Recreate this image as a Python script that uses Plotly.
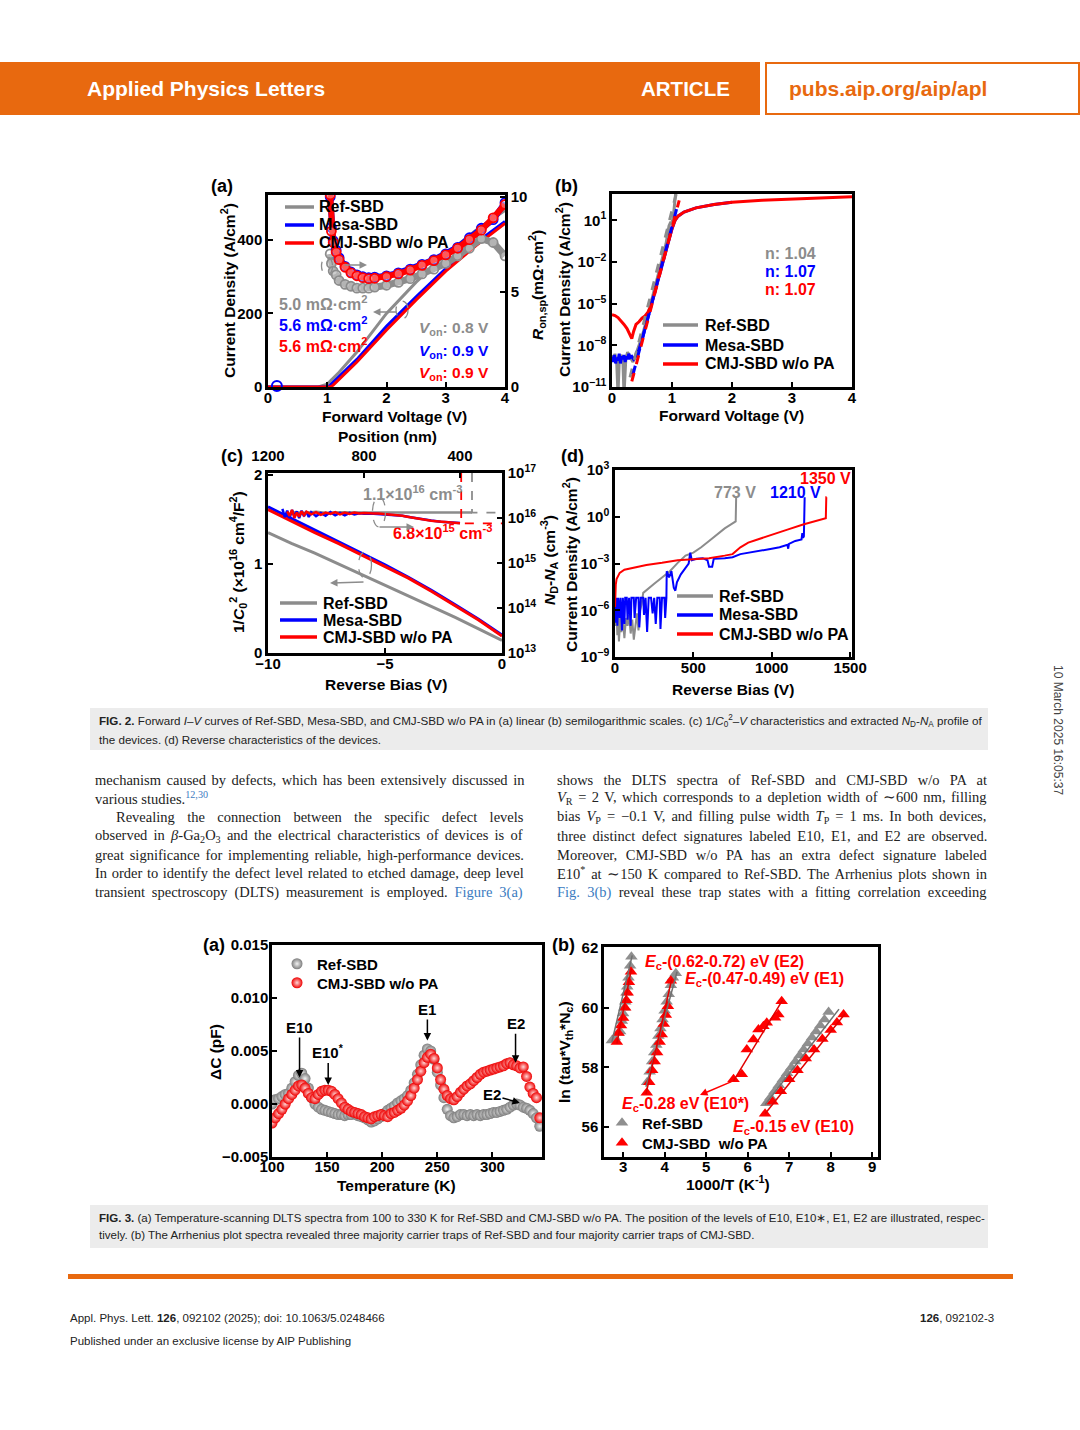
import plotly.graph_objects as go

W, H = 1080, 1430
SANS = "Arial, Liberation Sans, Helvetica, sans-serif"
SERIF = "Times New Roman, Liberation Serif, serif"
GREY = '#8c8c8c'
BLUE = '#0000ff'
RED = '#ff0000'
ORANGE = '#e8690f'
LINK = '#3b7bbf'

# ---------------- Fig. 2(a): linear J-V (A/cm2) and Ron,sp (mOhm cm2) ----------------
a_v_ref = [0, 0.85, 1.0, 1.2, 1.5, 2.0, 2.5, 3.0, 3.5, 4.0]
a_j_ref = [0, 0, 8, 40, 95, 200, 285, 360, 425, 480]
a_v_mesa = [0, 1.0, 1.05, 1.5, 2.0, 2.5, 3.0, 3.5, 4.0]
a_j_mesa = [0, 0, 5, 75, 165, 245, 322, 390, 450]
a_v_cmj = [0, 1.05, 1.1, 1.5, 2.0, 2.5, 3.0, 3.5, 4.0]
a_j_cmj = [0, 0, 5, 68, 155, 237, 315, 383, 445]
a_v_ron = [1.05, 1.07, 1.1, 1.15, 1.2, 1.3, 1.4, 1.5, 1.6, 1.7, 1.8, 2.0, 2.2, 2.4, 2.6, 2.8, 3.0, 3.2, 3.4, 3.6, 3.8, 4.0]
a_ron_ref = [7.0, 6.5, 6.1, 5.9, 5.6, 5.4, 5.3, 5.2, 5.2, 5.2, 5.25, 5.35, 5.5, 5.7, 5.95, 6.2, 6.5, 6.9, 7.3, 7.8, 7.6, 6.9]
a_ron_mesa = [10.0, 8.4, 7.7, 7.2, 6.8, 6.35, 6.05, 5.9, 5.8, 5.75, 5.78, 5.85, 6.0, 6.2, 6.45, 6.7, 7.0, 7.35, 7.85, 8.35, 8.8, 9.7]
a_ron_cmj = [10.1, 8.2, 7.6, 7.1, 6.7, 6.3, 6.0, 5.85, 5.75, 5.7, 5.72, 5.8, 5.95, 6.15, 6.4, 6.65, 6.95, 7.3, 7.75, 8.25, 8.9, 9.6]
a_out_v = [0.15]
a_out_r = [0.05]

# ---------------- Fig. 2(b): semilog forward J-V ----------------
b_v_ref = [0, 0.03, 0.05, 0.08, 0.1, 0.12, 0.15, 0.18, 0.2, 0.23, 0.26, 0.3, 0.35, 0.4, 0.5, 0.6, 0.7, 0.8, 0.9, 0.95, 0.98, 1.0, 1.03, 1.06]
b_j_ref = [2e-9, 1e-9, 2.5e-9, 4e-10, 3e-12, 6.3e-10, 2e-9, 1.3e-9, 3e-12, 1e-9, 3.2e-9, 1.6e-9, 6.3e-10, 2.5e-9, 4e-8, 1.6e-6, 8e-5, 4e-3, 0.2, 4, 8, 5, 40, 800]
b_v_mesa = [0, 0.02, 0.04, 0.06, 0.08, 0.1, 0.12, 0.14, 0.16, 0.18, 0.2, 0.22, 0.24, 0.26, 0.28, 0.3, 0.33, 0.36, 0.4, 0.45, 0.5, 0.6, 0.7, 0.8, 0.9, 1.0, 1.05, 1.1, 1.2, 1.4, 1.7, 2.0]
b_j_mesa = [1.6e-9, 6.3e-10, 2e-9, 5e-10, 1.3e-9, 8e-10, 2.5e-9, 5e-10, 1.6e-9, 1e-9, 2e-9, 6.3e-10, 1.6e-9, 1e-9, 2.5e-9, 1.3e-9, 1.6e-9, 1e-9, 1.6e-9, 5e-9, 2.5e-8, 1e-6, 4e-5, 2e-3, 8e-2, 2.5, 10, 20, 40, 80, 140, 200]
b_v_cmj = [0, 0.05, 0.1, 0.15, 0.2, 0.25, 0.3, 0.33, 0.36, 0.4, 0.45, 0.5, 0.55, 0.6, 0.65, 0.7, 0.8, 0.9, 1.0, 1.05, 1.1, 1.2, 1.4, 1.7, 2.0, 2.5, 3.0, 3.5, 4.0]
b_j_cmj = [1.6e-6, 1.4e-6, 1.0e-6, 6e-7, 3.2e-7, 1.6e-7, 6e-8, 3e-8, 1e-7, 3.2e-7, 5e-7, 9e-7, 1.3e-6, 2.5e-6, 8e-6, 4e-5, 2e-3, 8e-2, 2.5, 10, 20, 40, 80, 140, 200, 280, 350, 420, 500]
b_fit_ref_v = [0.3, 1.07]
b_fit_ref_j = [5e-11, 800]
b_fit_mesa_v = [0.35, 1.1]
b_fit_mesa_j = [8e-11, 160]
b_fit_cmj_v = [0.33, 1.12]
b_fit_cmj_j = [2.5e-11, 280]

# ---------------- Fig. 2(c): 1/C^2-V and ND-NA profile ----------------
c_bias = [-10, -9, -8, -7, -6, -5, -4, -3, -2, -1, 0]
c_invc2_ref = [1.35, 1.23, 1.12, 1.00, 0.88, 0.76, 0.64, 0.52, 0.40, 0.27, 0.14]
c_invc2_mesa = [1.64, 1.51, 1.38, 1.25, 1.12, 0.99, 0.85, 0.70, 0.54, 0.38, 0.20]
c_invc2_cmj = [1.61, 1.48, 1.35, 1.23, 1.10, 0.97, 0.84, 0.69, 0.53, 0.37, 0.19]
c_pos_ref = [1100, 1050, 1000, 950, 900, 850, 800, 750, 700, 650, 600, 550, 500, 450, 400, 350]
c_nd_ref = [1.35e16, 1.3e16, 1.38e16, 1.3e16, 1.35e16, 1.32e16, 1.33e16, 1.32e16, 1.32e16, 1.32e16, 1.31e16, 1.32e16, 1.32e16, 1.31e16, 1.32e16, 1.32e16]
c_pos_mesa = [1140, 1130, 1120, 1110, 1100, 1090, 1080, 1070, 1060, 1050, 1040, 1030, 1020,
              1000, 980, 960, 940, 920, 900, 880, 860, 840, 820, 800,
              760, 720, 680, 640, 600, 560, 520, 480, 440, 400]
c_nd_mesa = [1.6e16, 1.05e16, 1.45e16, 1.0e16, 1.5e16, 1.1e16, 1.4e16, 1.0e16, 1.45e16, 1.1e16, 1.4e16, 1.05e16, 1.35e16,
             1.1e16, 1.3e16, 1.12e16, 1.35e16, 1.15e16, 1.3e16, 1.15e16, 1.3e16, 1.2e16, 1.28e16, 1.25e16,
             1.25e16, 1.22e16, 1.18e16, 1.12e16, 1.03e16, 9.4e15, 8.8e15, 8.3e15, 8.0e15, 7.7e15]
c_pos_cmj = [1120, 1110, 1100, 1090, 1080, 1070, 1060, 1050, 1040, 1020, 1000, 980, 960, 940, 920, 900,
             880, 860, 840, 820, 800, 780, 760, 740, 720, 700, 680, 660, 640, 620, 600, 580, 560, 540,
             520, 500, 480, 460, 440, 420, 400]
c_nd_cmj = [1.41e16, 1.12e16, 1.51e16, 1.0e16, 1.32e16, 1.07e16, 1.41e16, 1.15e16, 1.38e16, 1.2e16, 1.35e16,
            1.17e16, 1.32e16, 1.23e16, 1.35e16, 1.2e16, 1.32e16, 1.23e16, 1.32e16, 1.26e16, 1.29e16, 1.26e16,
            1.26e16, 1.26e16, 1.23e16, 1.2e16, 1.2e16, 1.17e16, 1.12e16, 1.07e16, 1.02e16, 9.8e15, 9.3e15,
            9.1e15, 8.7e15, 8.5e15, 8.3e15, 8.1e15, 7.9e15, 7.8e15, 7.6e15]
c_guide_ref_pos = [350, 350, 225]
c_guide_ref_nd = [1e17, 1.32e16, 1.32e16]
c_guide_cmj_pos = [395, 395, 225]
c_guide_cmj_nd = [1e17, 7.6e15, 7.6e15]

# ---------------- Fig. 2(d): reverse characteristics ----------------
d_v_ref = [0, 5, 10, 15, 20, 25, 30, 35, 40, 50, 60, 70, 80, 90, 100, 110, 120, 130, 140, 150, 160, 170, 180,
           250, 300, 350, 400, 450, 500, 550, 600, 650, 700, 740, 770, 773, 775]
d_j_ref = [1e-6, 1e-7, 6.3e-7, 2.5e-8, 4e-7, 1e-8, 6.3e-8, 5e-7, 4e-8, 2.5e-7, 1.6e-8, 3.2e-7, 1e-7, 5e-7, 3.2e-8,
           2.5e-7, 1.3e-8, 1.6e-7, 6.3e-7, 5e-8, 1e-6, 2.5e-6, 1.3e-5, 5e-5, 1.3e-4, 3.2e-4, 1.1e-3, 3.2e-3, 5e-3,
           1.1e-2, 2.8e-2, 7e-2, 0.18, 0.32, 0.5, 18, 18]
d_v_mesa = [0, 5, 10, 15, 20, 30, 35, 45, 50, 60, 65, 75, 80, 90, 100, 105, 120, 125, 135, 150, 155, 165, 180,
            185, 195, 205, 215, 230, 240, 250, 260, 270, 285, 290, 300, 315, 320, 328, 330, 345, 360, 375, 385,
            395, 420, 450, 470, 480, 490, 520, 560, 590, 600, 620, 630, 700, 750, 800, 900, 1000, 1050, 1100,
            1105, 1110, 1150, 1190, 1195, 1200, 1205, 1208, 1210]
d_j_mesa = [6.3e-6, 1.6e-7, 6.3e-6, 1e-7, 6.3e-6, 3.2e-7, 6.3e-6, 5e-8, 6.3e-6, 1.3e-7, 6.3e-6, 6.3e-6, 2.5e-7,
            6.3e-6, 1e-7, 6.3e-6, 6.3e-6, 3.2e-7, 6.3e-6, 6.3e-6, 8e-8, 6.3e-6, 6.3e-6, 5e-7, 6.3e-6, 4e-8,
            6.3e-6, 6.3e-6, 6.3e-7, 6.3e-6, 1.3e-7, 6.3e-6, 6.3e-6, 6.3e-8, 6.3e-6, 6.3e-6, 3.2e-7, 6.3e-6,
            3.2e-4, 1.3e-4, 3.2e-4, 2.8e-5, 1.8e-5, 6.3e-5, 2e-4, 5e-4, 1e-3, 5e-3, 1.6e-3, 2e-3, 2.2e-3,
            1.6e-3, 6.3e-4, 6.3e-4, 2e-3, 2.2e-3, 2.5e-3, 4e-3, 6.3e-3, 8.9e-3, 1.1e-2, 1.6e-2, 8.9e-3, 1.8e-2,
            2.8e-2, 3.5e-2, 8.9e-2, 4.5e-2, 5.6e-2, 18, 18]
d_v_cmj = [0, 2, 5, 10, 30, 60, 100, 200, 300, 400, 500, 600, 700, 750, 800, 850, 900, 1000, 1100, 1200, 1300, 1345, 1348, 1350]
d_j_cmj = [1.6e-6, 1e-5, 4.5e-5, 1e-4, 2.5e-4, 4e-4, 5e-4, 8e-4, 1.1e-3, 1.6e-3, 1.9e-3, 2.2e-3, 3.2e-3, 4e-3,
           1.1e-2, 2.2e-2, 3.2e-2, 7.2e-2, 0.15, 0.32, 0.56, 0.8, 18, 18]

# ---------------- Fig. 3(a): DLTS spectra (pF) ----------------
t_temp = [100, 103, 106, 109, 112, 115, 118, 121, 124, 127, 130, 133, 136, 139, 142, 145, 148, 151, 154, 157,
          160, 163, 166, 169, 172, 175, 178, 181, 184, 187, 190, 193, 196, 199, 202, 205, 208, 211, 214, 217,
          220, 223, 226, 229, 232, 235, 238, 241, 244, 247, 250, 253, 256, 259, 262, 265, 268, 271, 274, 277,
          280, 283, 286, 289, 292, 295, 298, 301, 304, 307, 310, 313, 316, 319, 322, 325, 328, 331, 334, 337,
          340, 343]
t_dc_ref = [0.0, 0.0004, 0.0005, 0.0007, 0.0009, 0.0010, 0.0015, 0.0021, 0.0027, 0.0029, 0.0024, 0.0015, 0.0006,
            0.0, -0.0003, -0.0005, -0.0006, -0.0007, -0.0008, -0.0009, -0.0010, -0.0010, -0.0011, -0.0010,
            -0.0010, -0.0009, -0.0011, -0.0012, -0.0013, -0.0015, -0.0017, -0.0016, -0.0014, -0.0012, -0.0009,
            -0.0006, -0.0004, -0.0002, 0.0001, 0.0003, 0.0005, 0.0008, 0.0013, 0.0020, 0.0028, 0.0037, 0.0046,
            0.0052, 0.0050, 0.0042, 0.0030, 0.0018, 0.0006, -0.0005, -0.0011, -0.0013, -0.0012, -0.0010,
            -0.0010, -0.0011, -0.0010, -0.0011, -0.0010, -0.0011, -0.0010, -0.0010, -0.0009, -0.0008, -0.0008,
            -0.0007, -0.0006, -0.0005, -0.0003, -0.0001, 0.0, -0.0001, -0.0003, -0.0004, -0.0006, -0.0009,
            -0.0013, -0.0021]
t_dc_cmj = [-0.0018, -0.0013, -0.0009, -0.0005, 0.0, 0.0005, 0.0009, 0.0013, 0.0017, 0.0018, 0.0015, 0.0010,
            0.0006, 0.0005, 0.0009, 0.0012, 0.0013, 0.0013, 0.0012, 0.0009, 0.0005, 0.0001, -0.0003, -0.0005,
            -0.0007, -0.0008, -0.0009, -0.0010, -0.0012, -0.0013, -0.0014, -0.0012, -0.0011, -0.0010, -0.0011,
            -0.0012, -0.0009, -0.0008, -0.0006, -0.0004, -0.0001, 0.0003, 0.0008, 0.0015, 0.0023, 0.0031,
            0.0039, 0.0044, 0.0047, 0.0043, 0.0034, 0.0023, 0.0014, 0.0008, 0.0005, 0.0004, 0.0007, 0.0011,
            0.0014, 0.0017, 0.0019, 0.0022, 0.0025, 0.0028, 0.0030, 0.0031, 0.0032, 0.0033, 0.0034, 0.0035,
            0.0036, 0.0038, 0.0039, 0.0037, 0.0036, 0.0034, 0.0035, 0.0026, 0.0016, 0.0010, 0.0006, -0.0013]

# ---------------- Fig. 3(b): Arrhenius plots ----------------
r_x_ref = [2.73, 2.8, 2.88, 2.93, 2.97, 3.0, 3.03, 3.05, 3.08, 3.1, 3.13, 3.17, 3.2,
           3.58, 3.64, 3.7, 3.75, 3.8, 3.85, 3.9, 3.95, 4.0, 4.05, 4.1, 4.15, 4.2, 4.27,
           6.45, 6.55, 6.65, 6.75, 6.85, 6.95, 7.05, 7.15, 7.25, 7.35, 7.45, 7.55, 7.65, 7.75, 7.85, 7.95]
r_y_ref = [58.9, 59.0, 59.15, 59.2, 59.55, 59.8, 60.0, 60.2, 60.5, 60.7, 61.0, 61.4, 61.7,
           57.5, 57.85, 58.2, 58.5, 58.75, 59.05, 59.3, 59.6, 59.9, 60.2, 60.45, 60.75, 61.0, 61.15,
           56.8, 57.0, 57.2, 57.4, 57.6, 57.8, 58.0, 58.2, 58.4, 58.6, 58.8, 59.0, 59.2, 59.4, 59.6, 59.85]
r_x_cmj = [2.85, 2.89, 2.95, 3.0, 3.05, 3.08, 3.11, 3.14, 3.19,
           3.57, 3.63, 3.7, 3.76, 3.82, 3.88, 3.93, 3.98, 4.03, 4.08, 4.15,
           5.66, 5.86, 5.98, 6.14, 6.26, 6.38, 6.46, 6.66, 6.74, 6.82,
           6.42, 6.6, 6.8, 7.0, 7.2, 7.4, 7.6, 7.8, 8.0, 8.15, 8.31]
r_y_cmj = [58.85, 59.15, 59.4, 59.65, 60.0, 60.25, 60.5, 60.85, 61.2,
           57.15, 57.5, 57.9, 58.2, 58.5, 58.85, 59.1, 59.45, 59.75, 60.05, 60.9,
           57.6, 57.77, 58.6, 58.93, 59.27, 59.38, 59.49, 59.66, 59.77, 60.21,
           56.45, 56.85, 57.2, 57.6, 57.9, 58.3, 58.6, 58.95, 59.25, 59.5, 59.77]
r_fit_x_ref = [2.73, 3.22, None, 3.55, 4.3, None, 6.42, 8.2]
r_fit_y_ref = [58.85, 61.75, None, 57.35, 61.2, None, 56.75, 59.95]
r_fit_x_cmj = [2.85, 3.2, None, 3.55, 4.17, None, 5.66, 6.84, None, 6.42, 8.35]
r_fit_y_cmj = [58.8, 61.3, None, 57.1, 60.95, None, 57.55, 60.25, None, 56.45, 59.8]


def xd(l, r):
    return [l / W, r / W]


def yd(t, b):
    return [1 - b / H, 1 - t / H]


TF = dict(family=SANS, size=15, color='black', weight='bold')
TF3 = dict(family=SANS, size=15, color='black', weight='bold')


def axis(dom=None, rng=None, anchor=None, **kw):
    d = dict(range=rng, anchor=anchor, showline=True, linecolor='black', linewidth=2.5,
             mirror=True, ticks='inside', ticklen=5, tickwidth=2, tickcolor='black',
             showgrid=False, zeroline=False, tickfont=TF, fixedrange=True, automargin=False)
    if dom is not None:
        d['domain'] = dom
    d.update(kw)
    return d


traces = []
# --- 2(a)
for v, j, c in [(a_v_ref, a_j_ref, GREY), (a_v_mesa, a_j_mesa, BLUE), (a_v_cmj, a_j_cmj, RED)]:
    traces.append(go.Scatter(x=v, y=j, mode='lines', line=dict(color=c, width=3),
                             xaxis='x', yaxis='y', showlegend=False, hoverinfo='skip'))
for r, c, w in [(a_ron_ref, GREY, 7), (a_ron_mesa, BLUE, 6), (a_ron_cmj, RED, 6)]:
    traces.append(go.Scatter(x=a_v_ron, y=r, mode='lines+markers', line=dict(color=c, width=w),
                             marker=dict(symbol='circle', size=9, color='rgba(255,255,255,0.35)',
                                         line=dict(color=c, width=1.8)),
                             xaxis='x', yaxis='y2', showlegend=False, hoverinfo='skip'))
traces.append(go.Scatter(x=a_out_v, y=a_out_r, mode='markers',
                         marker=dict(symbol='circle-open', size=10, color=BLUE, line=dict(width=2)),
                         xaxis='x', yaxis='y2', showlegend=False, cliponaxis=False))
# --- 2(b)
for v, j, c in [(b_v_ref, b_j_ref, GREY), (b_v_mesa, b_j_mesa, BLUE), (b_v_cmj, b_j_cmj, RED)]:
    traces.append(go.Scatter(x=v, y=j, mode='lines', line=dict(color=c, width=3),
                             xaxis='x2', yaxis='y3', showlegend=False, hoverinfo='skip'))
for v, j, c in [(b_fit_ref_v, b_fit_ref_j, GREY), (b_fit_mesa_v, b_fit_mesa_j, BLUE), (b_fit_cmj_v, b_fit_cmj_j, RED)]:
    traces.append(go.Scatter(x=v, y=j, mode='lines', line=dict(color=c, width=3, dash='dash'),
                             xaxis='x2', yaxis='y3', showlegend=False, hoverinfo='skip'))
# --- 2(c)
for y, c in [(c_invc2_ref, GREY), (c_invc2_mesa, BLUE), (c_invc2_cmj, RED)]:
    traces.append(go.Scatter(x=c_bias, y=y, mode='lines', line=dict(color=c, width=3),
                             xaxis='x3', yaxis='y4', showlegend=False, hoverinfo='skip'))
for p, n, c in [(c_pos_ref, c_nd_ref, GREY), (c_pos_mesa, c_nd_mesa, BLUE), (c_pos_cmj, c_nd_cmj, RED)]:
    traces.append(go.Scatter(x=p, y=n, mode='lines', line=dict(color=c, width=2.5),
                             xaxis='x4', yaxis='y5', showlegend=False, hoverinfo='skip'))
for p, n, c in [(c_guide_ref_pos, c_guide_ref_nd, GREY), (c_guide_cmj_pos, c_guide_cmj_nd, RED)]:
    traces.append(go.Scatter(x=p, y=n, mode='lines', line=dict(color=c, width=1.8, dash='dash'),
                             xaxis='x4', yaxis='y5', showlegend=False, hoverinfo='skip'))
# --- 2(d)
for v, j, c in [(d_v_ref, d_j_ref, GREY), (d_v_mesa, d_j_mesa, BLUE), (d_v_cmj, d_j_cmj, RED)]:
    traces.append(go.Scatter(x=v, y=j, mode='lines', line=dict(color=c, width=2),
                             xaxis='x5', yaxis='y6', showlegend=False, hoverinfo='skip'))
# --- 3(a)
traces.append(go.Scatter(x=t_temp, y=t_dc_ref, mode='markers', name='Ref-SBD', legend='legend',
                         marker=dict(size=11, color='#7d7d7d', gradient=dict(type='radial', color='#f2f2f2'),
                                     line=dict(width=0)),
                         xaxis='x6', yaxis='y7', hoverinfo='skip'))
traces.append(go.Scatter(x=t_temp, y=t_dc_cmj, mode='markers', name='CMJ-SBD w/o PA', legend='legend3',
                         marker=dict(size=11, color='#ee0000', gradient=dict(type='radial', color='#ffd6d6'),
                                     line=dict(width=0)),
                         xaxis='x6', yaxis='y7', hoverinfo='skip'))
# --- 3(b)
traces.append(go.Scatter(x=r_x_ref, y=r_y_ref, mode='markers', name='Ref-SBD', legend='legend2',
                         marker=dict(symbol='triangle-up', size=11, color='#8f8f8f'),
                         xaxis='x7', yaxis='y8', hoverinfo='skip'))
traces.append(go.Scatter(x=r_x_cmj, y=r_y_cmj, mode='markers', name='CMJ-SBD  w/o PA', legend='legend4',
                         marker=dict(symbol='triangle-up', size=11, color=RED),
                         xaxis='x7', yaxis='y8', hoverinfo='skip'))
traces.append(go.Scatter(x=r_fit_x_ref, y=r_fit_y_ref, mode='lines', line=dict(color='#707070', width=1.5),
                         xaxis='x7', yaxis='y8', showlegend=False, hoverinfo='skip'))
traces.append(go.Scatter(x=r_fit_x_cmj, y=r_fit_y_cmj, mode='lines', line=dict(color='#e00000', width=1.5),
                         xaxis='x7', yaxis='y8', showlegend=False, hoverinfo='skip'))

fig = go.Figure(traces)

ann = []
shapes = []


def T(text, x, y, size=14, color='black', xa='center', ya='middle', angle=0, family=SANS, bold=True):
    if bold:
        text = '<b>' + text + '</b>'
    ann.append(dict(text=text, x=x / W, y=1 - y / H, xref='paper', yref='paper', xanchor=xa, yanchor=ya,
                    showarrow=False, textangle=angle, font=dict(family=family, size=size, color=color)))


def ARW(x0, y0, x1, y1, color, width=1.5):
    ann.append(dict(text='', x=x1 / W, y=1 - y1 / H, xref='paper', yref='paper', ax=x0 - x1, ay=y0 - y1,
                    showarrow=True, arrowhead=2, arrowsize=1, arrowwidth=width, arrowcolor=color))


def ELL(cx, cy, w, h, color=GREY):
    shapes.append(dict(type='circle', xref='paper', yref='paper', x0=(cx - w / 2) / W, x1=(cx + w / 2) / W,
                       y0=1 - (cy + h / 2) / H, y1=1 - (cy - h / 2) / H,
                       line=dict(color=color, width=1.3, dash='dash')))


def RECT(x0, y0, x1, y1, fill, line_color=None, lw=0):
    shapes.append(dict(type='rect', xref='paper', yref='paper', x0=x0 / W, x1=x1 / W, y0=1 - y1 / H,
                       y1=1 - y0 / H, fillcolor=fill, line=dict(color=line_color or fill, width=lw),
                       layer='below'))


def LEGLINE(x0, x1, y, color, text, tx, size=16, lw=3.5):
    shapes.append(dict(type='line', xref='paper', yref='paper', x0=x0 / W, x1=x1 / W, y0=1 - y / H,
                       y1=1 - y / H, line=dict(color=color, width=lw)))
    T(text, tx, y, size=size, xa='left')


# ---------- header ----------
RECT(0, 62, 760, 115, ORANGE)
RECT(766, 63, 1079, 114, 'white', ORANGE, 2)
T('Applied Physics Letters', 85, 88, size=21, color='white', xa='left')
T('ARTICLE', 732, 88, size=20.5, color='white', xa='right')
T('pubs.aip.org/aip/apl', 787, 89, size=21, color=ORANGE, xa='left')

# ---------- Fig 2 panel labels ----------
T('(a)', 222, 186, size=18)
T('(b)', 566, 186, size=18)
T('(c)', 232, 456, size=18)
T('(d)', 572, 456, size=18)

# 2(a)
T('Current Density (A/cm<sup>2</sup>)', 228, 291, size=15.5, angle=-90)
T('<i>R</i><sub>on,sp</sub>(mΩ·cm<sup>2</sup>)', 537, 285, size=15.5, angle=-90)
T('Forward Voltage (V)', 394, 416, size=15.5)
LEGLINE(285, 314, 207, GREY, 'Ref-SBD', 317)
LEGLINE(285, 314, 225, BLUE, 'Mesa-SBD', 317)
LEGLINE(285, 314, 243, RED, 'CMJ-SBD w/o PA', 317)
T('5.0 mΩ·cm<sup>2</sup>', 277, 303, size=16, color=GREY, xa='left')
T('5.6 mΩ·cm<sup>2</sup>', 277, 324, size=16, color=BLUE, xa='left')
T('5.6 mΩ·cm<sup>2</sup>', 277, 345, size=16, color=RED, xa='left')
T('<i>V</i><sub>on</sub>: 0.8 V', 491, 328, size=15.5, color=GREY, xa='right')
T('<i>V</i><sub>on</sub>: 0.9 V', 491, 351, size=15.5, color=BLUE, xa='right')
T('<i>V</i><sub>on</sub>: 0.9 V', 491, 374, size=15.5, color=RED, xa='right')
ELL(327, 266, 11, 18)
ARW(343, 265, 367, 265, GREY)
ELL(402, 310, 12, 18)
ARW(398, 312, 373, 312, GREY)

# 2(b)
T('Current Density (A/cm<sup>2</sup>)', 563, 290, size=15.5, angle=-90)
T('Forward Voltage (V)', 731, 415, size=15.5)
T('n: 1.04', 763, 253, size=16, color=GREY, xa='left')
T('n: 1.07', 763, 271, size=16, color=BLUE, xa='left')
T('n: 1.07', 763, 289, size=16, color=RED, xa='left')
LEGLINE(663, 698, 325, GREY, 'Ref-SBD', 703)
LEGLINE(663, 698, 345, BLUE, 'Mesa-SBD', 703)
LEGLINE(663, 698, 364, RED, 'CMJ-SBD w/o PA', 703)

# 2(c)
T('Position (nm)', 387, 436, size=15.5)
T('1/<i>C</i><sub>0</sub><sup>2</sup> (×10<sup>16</sup> cm<sup>4</sup>/F<sup>2</sup>)', 238, 562, size=15.5, angle=-90)
T('<i>N</i><sub>D</sub>-<i>N</i><sub>A</sub> (cm<sup>-3</sup>)', 549, 560, size=15.5, angle=-90)
T('Reverse Bias (V)', 386, 685, size=15.5)
T('1.1×10<sup>16</sup> cm<sup>-3</sup>', 412, 493, size=16, color=GREY)
T('6.8×10<sup>15</sup> cm<sup>-3</sup>', 442, 532, size=16, color=RED)
ELL(379, 512, 13, 30)
ARW(378, 527, 414, 527, GREY)
ELL(365, 565, 13, 26)
ARW(365, 582, 330, 583, GREY)
LEGLINE(280, 317, 603, GREY, 'Ref-SBD', 321)
LEGLINE(280, 317, 620, BLUE, 'Mesa-SBD', 321)
LEGLINE(280, 317, 637, RED, 'CMJ-SBD w/o PA', 321)

# 2(d)
T('Current Density (A/cm<sup>2</sup>)', 570, 565, size=15.5, angle=-90)
T('Reverse Bias (V)', 733, 689, size=15.5)
T('773 V', 735, 492, size=16, color=GREY)
T('1210 V', 795, 492, size=16, color=BLUE)
T('1350 V', 825, 478, size=16, color=RED)
LEGLINE(677, 713, 596, GREY, 'Ref-SBD', 717)
LEGLINE(677, 713, 615, BLUE, 'Mesa-SBD', 717)
LEGLINE(677, 713, 634, RED, 'CMJ-SBD w/o PA', 717)

# ---------- caption 2 ----------
CAP = 11.65
CAP3 = 11.55
RECT(90, 708, 988, 750, '#ececec')
T('<b>FIG. 2.</b> Forward <i>I</i>–<i>V</i> curves of Ref-SBD, Mesa-SBD, and CMJ-SBD w/o PA in (a) linear (b) '
  'semilogarithmic scales. (c) 1/<i>C</i><sub>0</sub><sup>2</sup>–<i>V</i> characteristics and extracted '
  '<i>N</i><sub>D</sub>-<i>N</i><sub>A</sub> profile of', 97, 721, size=CAP, color='#222', xa='left',
  bold=False)
T('the devices. (d) Reverse characteristics of the devices.', 97, 739, size=CAP, color='#222', xa='left',
  bold=False)


# ---------- body text (word spacing emulates justified columns) ----------
def WS(s, px, color=None):
    st = 'word-spacing:%.1fpx' % px
    if color:
        st = 'color:%s;' % color + st
    return '<span style="%s">%s</span>' % (st, s)


left_lines = [
    (93, 780, WS('mechanism caused by defects, which has been extensively discussed in', 1.9)),
    (93, 798, 'various studies.<sup><span style="color:%s">12,30</span></sup>' % LINK),
    (114, 817, WS('Revealing the connection between the specific defect levels', 8.8)),
    (93, 836, WS('observed in <i>β</i>-Ga<sub>2</sub>O<sub>3</sub> and the electrical characteristics of devices is of', 2.6)),
    (93, 855, WS('great significance for implementing reliable, high-performance devices.', 2.1)),
    (93, 873, WS('In order to identify the defect level related to etched damage, deep level', 1.0)),
    (93, 892, WS('transient spectroscopy (DLTS) measurement is employed. ', 3.3) + WS('Figure 3(a)', 3.3, LINK)),
]
right_lines = [
    (555, 780, WS('shows the DLTS spectra of Ref-SBD and CMJ-SBD w/o PA at', 6.7)),
    (555, 798, WS('<i>V</i><sub>R</sub> = 2 V, which corresponds to a depletion width of ∼600 nm, filling', 1.9)),
    (555, 817, WS('bias <i>V</i><sub>P</sub> = −0.1 V, and filling pulse width <i>T</i><sub>P</sub> = 1 ms. In both devices,', 2.4)),
    (555, 836, WS('three distinct defect signatures labeled E10, E1, and E2 are observed.', 2.9)),
    (555, 855, WS('Moreover, CMJ-SBD w/o PA has an extra defect signature labeled', 5.0)),
    (555, 873, WS('E10<sup>*</sup> at ∼150 K compared to Ref-SBD. The Arrhenius plots shown in', 2.1)),
    (555, 892, WS('Fig. 3(b)', 3.7, LINK) + WS(' reveal these trap states with a fitting correlation exceeding', 3.7)),
]
for x, y, s in left_lines + right_lines:
    T(s, x, y, size=14.5, color='#222', xa='left', family=SERIF, bold=False)

# ---------- Fig 3 ----------
T('(a)', 214, 945, size=18)
T('(b)', 563, 945, size=18)
T('ΔC (pF)', 215, 1052, size=15.5, angle=-90)
T('Temperature (K)', 396, 1185, size=15.5)
T('ln (tau*V<sub>th</sub>*N<sub>c</sub>)', 565, 1052, size=15.5, angle=-90)
T('1000/T (K<sup>-1</sup>)', 728, 1183, size=15.5)
for txt, xh, yh, axo, ayo in [('E10', 125, 0.0025, 0, -50), ('E10<sup>*</sup>', 151, 0.0018, 0, -33),
                              ('E1', 241, 0.0060, 0, -31), ('E2', 321, 0.0039, 0, -39),
                              ('E2', 325, 0.0001, -28, -8)]:
    ann.append(dict(text='<b>' + txt + '</b>', x=xh, y=yh, xref='x6', yref='y7', ax=axo, ay=ayo,
                    showarrow=True, arrowhead=2, arrowsize=1, arrowwidth=1.5, arrowcolor='black',
                    font=dict(family=SANS, size=15, color='black')))
T('<i>E</i><sub>c</sub>-(0.62-0.72) eV (E2)', 643, 962, size=16, color=RED, xa='left')
T('<i>E</i><sub>c</sub>-(0.47-0.49) eV (E1)', 683, 979, size=16, color=RED, xa='left')
T('<i>E</i><sub>c</sub>-0.28 eV (E10*)', 620, 1104, size=16, color=RED, xa='left')
T('<i>E</i><sub>c</sub>-0.15 eV (E10)', 731, 1127, size=16, color=RED, xa='left')
ARW(733, 1081, 700, 1095, RED, 1.5)

RECT(90, 1205, 988, 1248, '#ececec')
T('<b>FIG. 3.</b> (a) Temperature-scanning DLTS spectra from 100 to 330 K for Ref-SBD and CMJ-SBD w/o PA. '
  'The position of the levels of E10, E10∗, E1, E2 are illustrated, respec-', 97, 1218, size=CAP3, color='#222',
  xa='left', bold=False)
T('tively. (b) The Arrhenius plot spectra revealed three majority carrier traps of Ref-SBD and four majority '
  'carrier traps of CMJ-SBD.', 97, 1235, size=CAP3, color='#222', xa='left', bold=False)

# ---------- footer ----------
RECT(68, 1274, 1013, 1279, ORANGE)
T('Appl. Phys. Lett. <b>126</b>, 092102 (2025); doi: 10.1063/5.0248466', 68, 1318, size=11.5, color='#222',
  xa='left', bold=False)
T('<b>126</b>, 092102-3', 996, 1318, size=11.5, color='#222', xa='right', bold=False)
T('Published under an exclusive license by AIP Publishing', 68, 1341, size=11.5, color='#222', xa='left',
  bold=False)
T('10 March 2025 16:05:37', 1058, 730, size=12, color='#444', angle=90, bold=False)

LEGF = dict(family=SANS, size=15, color='black', weight='bold')


def LEG(x, y):
    return dict(x=x / W, y=1 - y / H, xanchor='left', yanchor='middle', bgcolor='rgba(0,0,0,0)',
                font=LEGF, tracegroupgap=0, itemwidth=30, borderwidth=0)


XSO = -5   # bring bottom tick labels closer to axes

fig.update_layout(
    width=W, height=H, margin=dict(l=0, r=0, t=0, b=0, autoexpand=False), autosize=False,
    paper_bgcolor='white', plot_bgcolor='rgba(0,0,0,0)',
    annotations=ann, shapes=shapes,
    # 2(a)
    xaxis=axis(xd(268, 505), [0, 4], 'y', tickvals=[0, 1, 2, 3, 4], ticklabelstandoff=XSO),
    yaxis=axis(yd(195, 387), [0, 522], 'x', tickvals=[0, 200, 400]),
    yaxis2=axis(None, [0, 10.1], 'x', overlaying='y', side='right', tickvals=[0, 5, 10], mirror=False),
    # 2(b)
    xaxis2=axis(xd(612, 852), [0, 4], 'y3', tickvals=[0, 1, 2, 3, 4], ticklabelstandoff=XSO),
    yaxis3=axis(yd(194, 387), [-11, 2.9], 'x2', type='log', tickvals=[1e1, 1e-2, 1e-5, 1e-8, 1e-11],
                ticktext=['10<sup>1</sup>', '10<sup>−2</sup>', '10<sup>−5</sup>', '10<sup>−8</sup>', '10<sup>−11</sup>']),
    # 2(c)
    xaxis3=axis(xd(268, 502), [-10, 0], 'y4', tickvals=[-10, -5, 0], ticktext=['−10', '−5', '0'],
                ticklabelstandoff=XSO),
    xaxis4=axis(None, [1200, 225], 'y4', overlaying='x3', side='top', tickvals=[1200, 800, 400], mirror=False,
                ticklabelstandoff=3),
    yaxis4=axis(yd(473, 653), [0, 2.02], 'x3', tickvals=[0, 1, 2]),
    yaxis5=axis(None, [13, 17], 'x3', overlaying='y4', side='right', type='log', mirror=False,
                tickvals=[1e13, 1e14, 1e15, 1e16, 1e17],
                ticktext=['10<sup>13</sup>', '10<sup>14</sup>', '10<sup>15</sup>', '10<sup>16</sup>', '10<sup>17</sup>']),
    # 2(d)
    xaxis5=axis(xd(615, 852), [0, 1512], 'y6', tickvals=[0, 500, 1000, 1500], ticklabelstandoff=XSO),
    yaxis6=axis(yd(470, 657), [-9, 3], 'x5', type='log', tickvals=[1e3, 1e0, 1e-3, 1e-6, 1e-9],
                ticktext=['10<sup>3</sup>', '10<sup>0</sup>', '10<sup>−3</sup>', '10<sup>−6</sup>', '10<sup>−9</sup>']),
    # 3(a)
    xaxis6=axis(xd(272, 542), [100, 345], 'y7', tickvals=[100, 150, 200, 250, 300], tickfont=TF3,
                ticklabelstandoff=-6),
    yaxis7=axis(yd(945, 1157), [-0.005, 0.015], 'x6', tickvals=[-0.005, 0, 0.005, 0.01, 0.015],
                ticktext=['−0.005', '0.000', '0.005', '0.010', '0.015'], tickfont=TF3, ticklabelstandoff=-2),
    # 3(b)
    xaxis7=axis(xd(604, 878), [2.54, 9.14], 'y8', tickvals=[3, 4, 5, 6, 7, 8, 9], tickfont=TF3,
                ticklabelstandoff=-6),
    yaxis8=axis(yd(947, 1157), [55, 62.03], 'x7', tickvals=[56, 58, 60, 62], tickfont=TF3),
    legend=LEG(277, 964),
    legend3=LEG(277, 983),
    legend2=LEG(602, 1123),
    legend4=LEG(602, 1143),
)

fig.write_html("out.html", config={'displayModeBar': False},
               post_script="document.body.style.margin='0px';")
